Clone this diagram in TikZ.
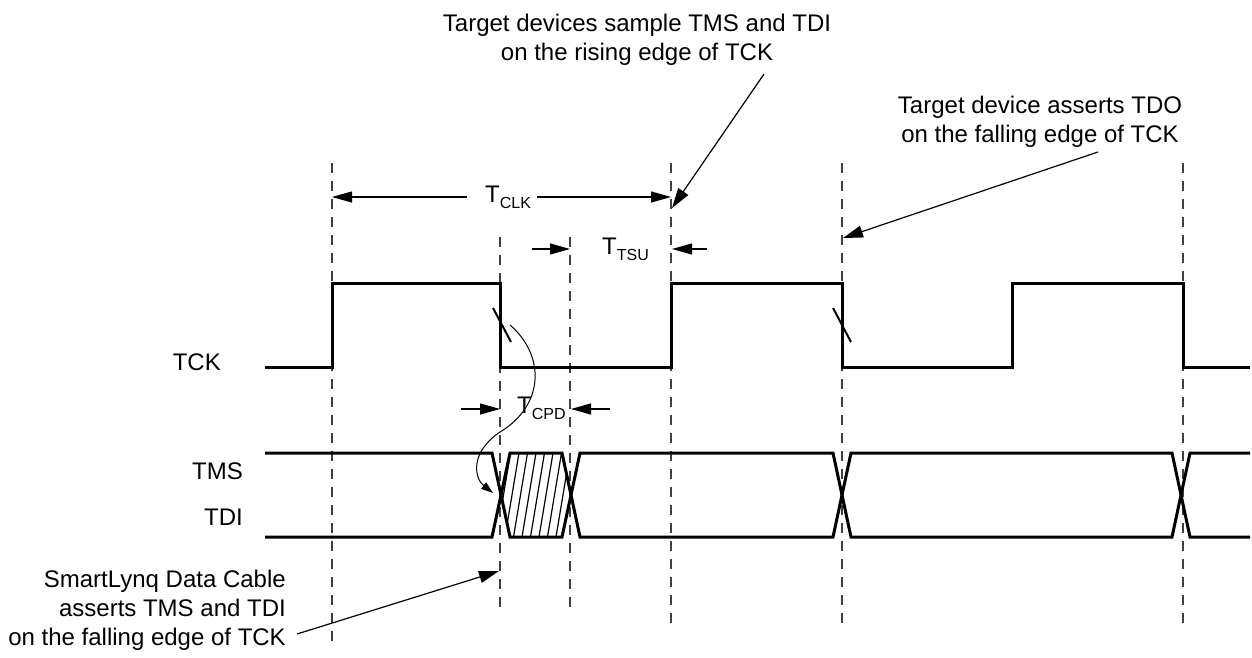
\documentclass[tikz,border=0pt]{standalone}
\usepackage{fontspec}
\setmainfont{Liberation Sans}
\usetikzlibrary{arrows.meta}
\newcommand{\tsub}[1]{\raisebox{-6pt}{\fontsize{16}{16}\selectfont #1}}

\begin{document}
\begin{tikzpicture}[x=1pt, y=-1pt,
  wave/.style={line width=3pt, line join=miter},
  guide/.style={line width=1.3pt, black!75, dash pattern=on 10pt off 8pt},
  dim/.style={line width=1.2pt, -{Triangle[length=20pt,width=11pt]}},
  arr/.style={line width=1.2pt, -{Triangle[length=20pt,width=12pt]}},
  tick/.style={line width=2pt},
  note/.style={font=\fontsize{24}{29}\selectfont, align=center, inner sep=0pt},
  sig/.style={font=\fontsize{24}{29}\selectfont, anchor=base east, inner sep=0pt},
  tlabel/.style={font=\fontsize{24}{29}\selectfont, anchor=base west, inner sep=0pt}
]
\useasboundingbox (0,0) rectangle (1252,658);

% guide lines
\foreach \x/\a/\b in {332/163/647, 500/237/612, 570/237/612, 671/163/625, 842/163/625, 1183/163/625}
  \draw[guide] (\x,\a) -- (\x,\b);

% TCK
\draw[wave] (265,367) -- (332,367) -- (332,283) -- (500,283) -- (500,367) -- (671,367)
  -- (671,283) -- (842,283) -- (842,367) -- (1012,367) -- (1012,283) -- (1183,283)
  -- (1183,367) -- (1250,367);
\draw[tick] (493,308) -- (511,342);
\draw[tick] (833,308) -- (851,342);

% TMS / TDI
\begin{scope}
  \clip (501,495) -- (510,453) -- (562,453) -- (571,495) -- (562,537) -- (510,537) -- cycle;
  \foreach \i in {0,...,9}
    \draw[line width=1.2pt] (488+\i*8.5,537) -- ++(14,-84);
\end{scope}
\draw[wave] (265,453) -- (492,453) -- (510,537) -- (562,537) -- (580,453) -- (833,453)
  -- (851,537) -- (1172,537) -- (1190,453) -- (1250,453);
\draw[wave] (265,537) -- (492,537) -- (510,453) -- (562,453) -- (580,537) -- (833,537)
  -- (851,453) -- (1172,453) -- (1190,537) -- (1250,537);

\node[sig] (tck) at (221,370) {TCK};
\node[sig] (tms) at (243,479) {TMS};
\node[sig] (tdi) at (243,525) {TDI};

% timing values
\node[tlabel] (tclk) at (485,202) {T\tsub{CLK}};
\coordinate (clka) at (467,197);
\coordinate (clkb) at (537,197);
\coordinate (clkl) at (332,197);
\coordinate (clkr) at (671,197);
\draw[dim] (clka) -- (clkl);
\draw[dim] (clkb) -- (clkr);

\node[tlabel] (ttsu) at (602,254) {T\tsub{TSU}};
\coordinate (tsua) at (532,249);
\coordinate (tsul) at (570,249);
\coordinate (tsub) at (707,249);
\coordinate (tsur) at (672,249);
\draw[dim] (tsua) -- (tsul);
\draw[dim] (tsub) -- (tsur);

\node[tlabel] (tcpd) at (517,413) {T\tsub{CPD}};
\coordinate (cpda) at (461,409);
\coordinate (cpdl) at (500,409);
\coordinate (cpdb) at (610,409);
\coordinate (cpdr) at (571,409);
\draw[dim] (cpda) -- (cpdl);
\draw[dim] (cpdb) -- (cpdr);

\coordinate (cpdfrom) at (510,325);
\coordinate (cpdto) at (493,493);
\draw[line width=1pt, -{Triangle[length=12pt,width=8pt]}] (cpdfrom)
  .. controls (545,355) and (545,405) .. (500,432)
  .. controls (470,452) and (474,478) .. (cpdto);

% notes
\node[note] (rise) at (637,40) {Target devices sample TMS and TDI\\on the rising edge of TCK};
\node[note] (fall) at (1040,122) {Target device asserts TDO\\on the falling edge of TCK};
\node[note, align=right, anchor=east] (cable) at (286,610) {SmartLynq Data Cable\\asserts TMS and TDI\\on the falling edge of TCK};

\coordinate (risefrom) at (764,74);
\coordinate (riseto) at (672,208);
\coordinate (fallfrom) at (1098,152);
\coordinate (fallto) at (843,238);
\coordinate (cablefrom) at (297,634);
\coordinate (cableto) at (499,571);
\draw[arr] (risefrom) -- (riseto);
\draw[arr] (fallfrom) -- (fallto);
\draw[arr] (cablefrom) -- (cableto);
\end{tikzpicture}
\end{document}
